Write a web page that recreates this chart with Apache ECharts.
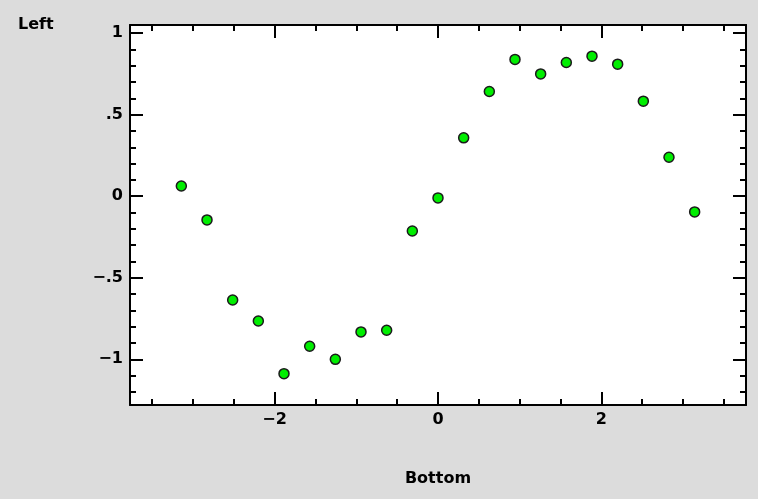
<!DOCTYPE html>
<html>
<head>
<meta charset="utf-8">
<script src="https://cdn.jsdelivr.net/npm/echarts@6/dist/echarts.min.js"></script>
<style>
  html, body { margin: 0; padding: 0; background: #dcdcdc; }
  #chart { width: 758px; height: 499px; }
</style>
</head>
<body>
<div id="chart"></div>
<script>
// sample positions, -pi .. pi in 21 steps
const xValues = [-3.1416, -2.8274, -2.5133, -2.1991, -1.885, -1.5708, -1.2566, -0.9425, -0.6283, -0.3142,
  0, 0.3142, 0.6283, 0.9425, 1.2566, 1.5708, 1.885, 2.1991, 2.5133, 2.8274, 3.1416];
// values
const yValues = [0.063, -0.145, -0.636, -0.765, -1.088, -0.92, -1.0, -0.832, -0.822, -0.213,
  -0.01, 0.358, 0.642, 0.839, 0.75, 0.82, 0.859, 0.81, 0.583, 0.239, -0.096];

const xTickValues = [-2, 0, 2];
const xTickLabels = ['\u22122', '0', '2'];
const yTickValues = [-1, -0.5, 0, 0.5, 1];
const yTickLabels = ['\u22121', '\u2212.5', '0', '.5', '1'];

function pickLabel(values, labels) {
    return function (v) {
        for (let i = 0; i < values.length; i++) {
            if (Math.abs(values[i] - v) < 1e-6) return labels[i];
        }
        return '';
    };
}

const chart = echarts.init(document.getElementById('chart'));

const font = { fontFamily: 'DejaVu Sans', fontWeight: 'bold', fontSize: 16, color: '#000' };
const line = { show: true, onZero: false, lineStyle: { color: '#000', width: 2 } };
const tick = { show: true, inside: true, length: 13, lineStyle: { color: '#000', width: 2 } };
const minor = { show: true, length: 6, lineStyle: { color: '#000', width: 2 } };

const xBase = {
    type: 'value',
    min: -3.77,
    max: 3.77,
    splitNumber: 5,
    axisLine: line,
    axisTick: tick,
    splitLine: { show: false },
    minorSplitLine: { show: false }
};
const yBase = {
    type: 'value',
    min: -1.28,
    max: 1.05,
    splitNumber: 5,
    axisLine: line,
    axisTick: tick,
    splitLine: { show: false },
    minorSplitLine: { show: false }
};

chart.setOption({
    backgroundColor: '#dcdcdc',
    animation: false,
    grid: { left: 130, right: 12, top: 25, bottom: 94, show: true, backgroundColor: '#fff', borderWidth: 0 },
    graphic: [
        { type: 'text', left: 18, top: 17, style: { text: 'Left', font: 'bold 16px "DejaVu Sans"', fill: '#000' } }
    ],
    xAxis: [
        Object.assign({}, xBase, {
            position: 'bottom',
            name: 'Bottom',
            nameLocation: 'middle',
            nameGap: 66,
            nameTextStyle: font,
            minorTick: Object.assign({ splitNumber: 4 }, minor),
            axisLabel: Object.assign({ margin: 7, showMinLabel: false, showMaxLabel: false,
                formatter: pickLabel(xTickValues, xTickLabels) }, font)
        }),
        Object.assign({}, xBase, {
            position: 'top',
            minorTick: Object.assign({ splitNumber: 4 }, minor),
            axisLabel: { show: false }
        })
    ],
    yAxis: [
        Object.assign({}, yBase, {
            position: 'left',
            minorTick: Object.assign({ splitNumber: 5 }, minor),
            axisLabel: Object.assign({ margin: 7, showMinLabel: false, showMaxLabel: false,
                formatter: pickLabel(yTickValues, yTickLabels) }, font)
        }),
        Object.assign({}, yBase, {
            position: 'right',
            minorTick: Object.assign({ splitNumber: 5 }, minor),
            axisLabel: { show: false }
        })
    ],
    series: [{
        type: 'scatter',
        xAxisIndex: 0,
        yAxisIndex: 0,
        symbol: 'circle',
        symbolSize: 10,
        itemStyle: { color: '#00ee00', borderColor: '#1a1a1a', borderWidth: 1.5, opacity: 1 },
        data: xValues.map((x, i) => [x, yValues[i]])
    }]
});
</script>
</body>
</html>
